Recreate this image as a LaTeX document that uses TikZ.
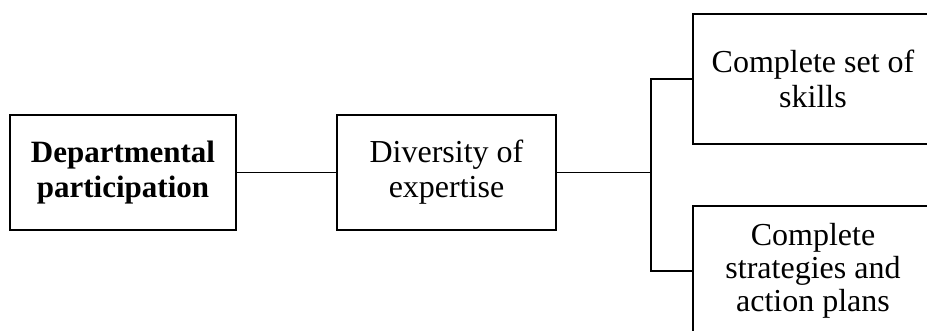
\documentclass[tikz,border=0pt]{standalone}
\usepackage{fontspec}
\setmainfont{Liberation Serif}
\begin{document}
\begin{tikzpicture}[x=1pt,y=-1pt,
  box/.style={draw, line width=1.8pt, align=center, inner sep=0pt,
              font=\fontsize{32}{35}\selectfont},
  link/.style={line width=1.8pt}]
\useasboundingbox (0,0) rectangle (927,331);
\clip (0,0) rectangle (927,331);

% boxes
\node[box, minimum width=226pt, minimum height=115pt,
      font=\fontsize{31}{35}\selectfont\bfseries] (dept) at (123,172.5)
      {Departmental\\participation};
\node[box, minimum width=219pt, minimum height=115pt] (div) at (446.5,172.5)
      {Diversity of\\expertise};
\node[box, minimum width=240pt, minimum height=130pt] (skills) at (813,79)
      {Complete set of\\skills};
\node[box, minimum width=240pt, minimum height=130pt,
      font=\fontsize{32}{33}\selectfont] (plans) at (813,271)
      {Complete\\strategies and\\action plans};

% connectors
\coordinate (fork) at (651,172.5);
\draw[link] (dept.east) -- (div.west);
\draw[link] (div.east) -- (fork);
\draw[link] (skills.west) -| (fork);
\draw[link] (plans.west) -| (fork);
\end{tikzpicture}
\end{document}
